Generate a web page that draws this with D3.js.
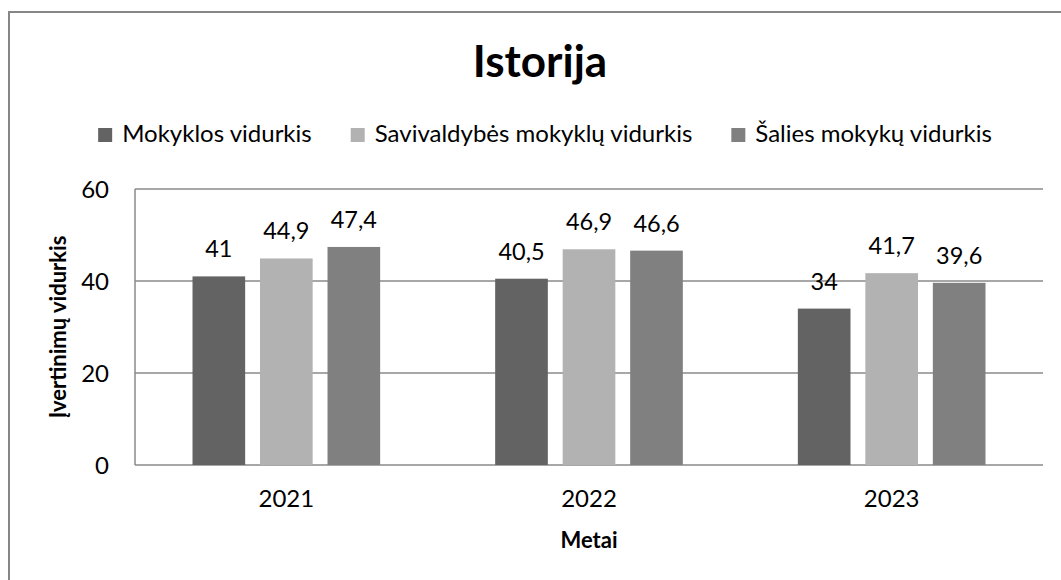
<!DOCTYPE html>
<html>
<head>
<meta charset="utf-8">
<script src="https://cdn.jsdelivr.net/npm/d3@7"></script>
<style>
  body { margin: 0; background: #fff; }
  svg { display: block; font-family: Lato, "Open Sans", sans-serif; }
</style>
</head>
<body>
<svg></svg>
<script>
const width = 1061, height = 580
const years = ["2021", "2022", "2023"]
const seriesNames = ["Mokyklos vidurkis", "Savivaldybės mokyklų vidurkis", "Šalies mokykų vidurkis"]
const school = [41, 40.5, 34]
const municipality = [44.9, 46.9, 41.7]
const country = [47.4, 46.6, 39.6]
const yTicks = [0, 20, 40, 60]
const colors = ["#636363", "#b2b2b2", "#808080"]

const values = [school, municipality, country]
const rows = years.map((y, i) => ({year: y, vals: values.map((v, s) => ({s, v: v[i]}))}))

const margin = {left: 135, right: 18, top: 189, bottom: 115}

const svg = d3.select("svg").attr("width", width).attr("height", height)

// outer frame, runs off the right and bottom edge like the original
svg.append("rect")
  .attr("x", 9).attr("y", 12).attr("width", 1120).attr("height", 640)
  .attr("fill", "none").attr("stroke", "#868686").attr("stroke-width", 2)

const x0 = d3.scaleBand().domain(years)
  .range([margin.left, width - margin.right])
  .paddingInner(0.38).paddingOuter(0.19)
const x1 = d3.scaleBand().domain(d3.range(seriesNames.length))
  .range([0, x0.bandwidth()]).paddingInner(0.22)
const y = d3.scaleLinear().domain([0, 60]).range([height - margin.bottom, margin.top])

// gridlines
svg.append("g").selectAll("line").data(yTicks).join("line")
  .attr("x1", margin.left).attr("x2", width - margin.right)
  .attr("y1", d => y(d)).attr("y2", d => y(d))
  .attr("stroke", "#8a8a8a").attr("stroke-width", 1.5)

svg.append("line")
  .attr("x1", margin.left).attr("x2", margin.left)
  .attr("y1", y(60)).attr("y2", y(0))
  .attr("stroke", "#8a8a8a").attr("stroke-width", 1.5)

// y tick labels
svg.append("g").selectAll("text").data(yTicks).join("text")
  .attr("x", 109).attr("y", d => y(d)).attr("dy", "0.36em")
  .attr("text-anchor", "end").attr("font-size", 24).attr("fill", "#000")
  .text(d => d)

// bars
const groups = svg.append("g").selectAll("g").data(rows).join("g")
  .attr("transform", d => `translate(${x0(d.year)},0)`)

groups.selectAll("rect").data(d => d.vals).join("rect")
  .attr("x", d => x1(d.s)).attr("width", x1.bandwidth())
  .attr("y", d => y(d.v)).attr("height", d => y(0) - y(d.v))
  .attr("fill", d => colors[d.s])

groups.selectAll("text").data(d => d.vals).join("text")
  .attr("x", d => x1(d.s) + x1.bandwidth() / 2)
  .attr("y", d => y(d.v) - 19)
  .attr("text-anchor", "middle").attr("font-size", 23.5)
  .text(d => String(d.v).replace(".", ","))

// x tick labels
svg.append("g").selectAll("text").data(years).join("text")
  .attr("x", d => x0(d) + x0.bandwidth() / 2).attr("y", 507)
  .attr("text-anchor", "middle").attr("font-size", 24)
  .text(d => d)

// axis titles
svg.append("text")
  .attr("x", (margin.left + width - margin.right) / 2).attr("y", 548)
  .attr("text-anchor", "middle").attr("font-size", 22).attr("font-weight", "bold")
  .text("Metai")

svg.append("text")
  .attr("transform", `translate(66,${(y(0) + y(60)) / 2}) rotate(-90)`)
  .attr("text-anchor", "middle").attr("font-size", 22).attr("font-weight", "bold")
  .text("Įvertinimų vidurkis")

// title
svg.append("text")
  .attr("x", 540).attr("y", 77)
  .attr("text-anchor", "middle").attr("font-size", 44).attr("font-weight", "bold")
  .text("Istorija")

// legend
const legend = svg.append("g")
const items = legend.selectAll("g").data(seriesNames).join("g")
items.append("rect").attr("width", 14).attr("height", 14).attr("y", -14)
  .attr("fill", (d, i) => colors[i])
items.append("text").attr("x", 24).attr("font-size", 24).text(d => d)

let cx = 0
items.each(function () {
  const w = 24 + this.querySelector("text").getComputedTextLength()
  d3.select(this).attr("transform", `translate(${cx},0)`)
  cx += w + 39
})
const legendWidth = cx - 39
legend.attr("transform", `translate(${545 - legendWidth / 2},142)`)
</script>
</body>
</html>
